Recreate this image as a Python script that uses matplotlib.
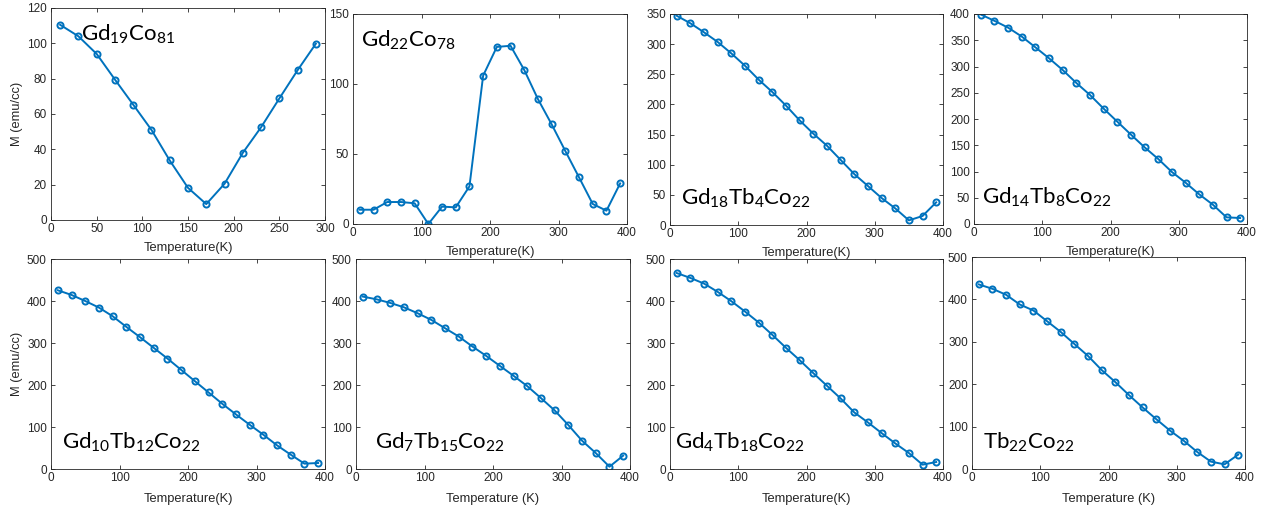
import numpy as np
import matplotlib
matplotlib.use("Agg")
import matplotlib.pyplot as plt

plt.rcParams["font.family"] = ["Liberation Sans", "DejaVu Sans"]

# Temperatures (K)
temp_short = [10, 30, 50, 70, 90, 110, 130, 150, 170, 190, 210, 230, 250, 270, 290]
temp_long = [10, 30, 50, 70, 90, 110, 130, 150, 170, 190, 210, 230, 250, 270, 290,
             310, 330, 350, 370, 390]

# Magnetization (emu/cc) per composition
m_gd19co81 = [110.5, 104, 94, 79.5, 65.3, 51, 33.7, 18.2, 9, 20.5, 38, 52.5, 68.8, 84.8, 99.8]
m_gd22co78 = [10.2, 10.2, 15.7, 15.7, 14.8, 0, 12.4, 11.9, 26.9, 106, 126.5, 127.3, 110,
              89.2, 71.2, 52.1, 33.3, 14.3, 9.5, 29]
m_gd18tb4 = [347, 334.5, 319.5, 303.5, 284.5, 264, 241, 220.5, 198, 173.5, 151.5, 131.5,
             108, 84.5, 64.7, 44.8, 27.6, 7.7, 14.9, 37.6]
m_gd14tb8 = [399, 387, 374, 357, 336.5, 315.6, 293.3, 268.6, 245.7, 219.7, 194.9, 170.2,
             146, 123.8, 99, 78.7, 56.5, 36.8, 12.7, 11.4]
m_gd10tb12 = [425.5, 414.4, 400, 384.3, 363.7, 338.4, 313.8, 288.4, 263, 236.1, 209.2,
              182.3, 155.3, 130, 105.4, 81.6, 56.3, 34.1, 12.7, 14.3]
m_gd7tb15 = [410.5, 404, 395.4, 385, 370.8, 355, 335.2, 315.4, 291.6, 269.4, 245.6, 221.9,
             197.3, 168.8, 139.5, 104.6, 67.4, 38, 5.5, 31.7]
m_gd4tb18 = [466.5, 454.8, 441.4, 421.6, 399.4, 374.8, 348.7, 319.3, 288.4, 259.1, 228.2,
             198.1, 168, 134.7, 110.9, 85.6, 61, 38, 10.3, 16.6]
m_tb22 = [435.3, 425, 410.9, 388, 373.8, 348.6, 323.3, 294.9, 266.6, 233.4, 205, 174.3,
          145.1, 117.5, 90.7, 67, 40.2, 17.4, 11, 33.9]

labels = [r"$\mathregular{Gd_{19}Co_{81}}$", r"$\mathregular{Gd_{22}Co_{78}}$",
          r"$\mathregular{Gd_{18}Tb_{4}Co_{22}}$", r"$\mathregular{Gd_{14}Tb_{8}Co_{22}}$",
          r"$\mathregular{Gd_{10}Tb_{12}Co_{22}}$", r"$\mathregular{Gd_{7}Tb_{15}Co_{22}}$",
          r"$\mathregular{Gd_{4}Tb_{18}Co_{22}}$", r"$\mathregular{Tb_{22}Co_{22}}$"]
xlabels = ["Temperature(K)"] * 5 + ["Temperature (K)", "Temperature(K)", "Temperature (K)"]

W, H = 1265, 508
fig = plt.figure(figsize=(W / 100, H / 100), dpi=100)

# axes boxes in pixels: left, top, right, bottom
boxes = [(51, 8, 325, 220), (353, 14, 627, 224), (670, 14, 943, 225), (974, 14, 1247, 224),
         (51, 259, 325, 469), (356, 259, 630, 469), (670, 259, 943, 469), (972, 257, 1245, 469)]

series = [(temp_short, m_gd19co81), (temp_long, m_gd22co78), (temp_long, m_gd18tb4),
          (temp_long, m_gd14tb8), (temp_long, m_gd10tb12), (temp_long, m_gd7tb15),
          (temp_long, m_gd4tb18), (temp_long, m_tb22)]
xlims = [(0, 300)] + [(0, 400)] * 7
ylims = [(0, 120), (0, 150), (0, 350), (0, 400), (0, 500), (0, 500), (0, 500), (0, 500)]
yticks = [np.arange(0, 121, 20), np.arange(0, 151, 50), np.arange(0, 351, 50),
          np.arange(0, 401, 50)] + [np.arange(0, 501, 100)] * 4
xticks = [np.arange(0, 301, 50)] + [np.arange(0, 401, 100)] * 7
# label anchor (axes fraction) and vertical alignment
label_pos = [(0.11, 0.93, "top"), (0.03, 0.93, "top"), (0.04, 0.07, "bottom"),
             (0.03, 0.07, "bottom"), (0.04, 0.07, "bottom"), (0.07, 0.07, "bottom"),
             (0.02, 0.07, "bottom"), (0.04, 0.07, "bottom")]

blue = "#0072BD"
gray = "#262626"

for i, ((l, t, r, b), (x, y)) in enumerate(zip(boxes, series)):
    ax = fig.add_axes([l / W, 1 - b / H, (r - l) / W, (b - t) / H])
    ax.plot(x, y, "-o", color=blue, lw=1.4, ms=4.4, mfc="none", mew=1.4)
    ax.set_xlim(*xlims[i])
    ax.set_ylim(*ylims[i])
    ax.set_xticks(xticks[i])
    ax.set_yticks(yticks[i])
    ax.tick_params(direction="in", top=True, right=True, length=3, width=0.6,
                   labelsize=8.5, colors=gray, pad=2)
    ax.tick_params(axis="y", pad=3)
    for s in ax.spines.values():
        s.set_color(gray)
        s.set_linewidth(0.6)
    ax.set_xlabel(xlabels[i], fontsize=9.3, color=gray, labelpad=5 if i < 4 else 6.5)
    if i in (0, 4):
        ax.set_ylabel("M (emu/cc)", fontsize=9.3, color=gray, labelpad=3)
    lx, ly, va = label_pos[i]
    ax.text(lx, ly, labels[i], transform=ax.transAxes, fontsize=16,
            family=["Lato", "DejaVu Sans"], va=va, ha="left", color="black")

fig.savefig("out.png", dpi=100)
